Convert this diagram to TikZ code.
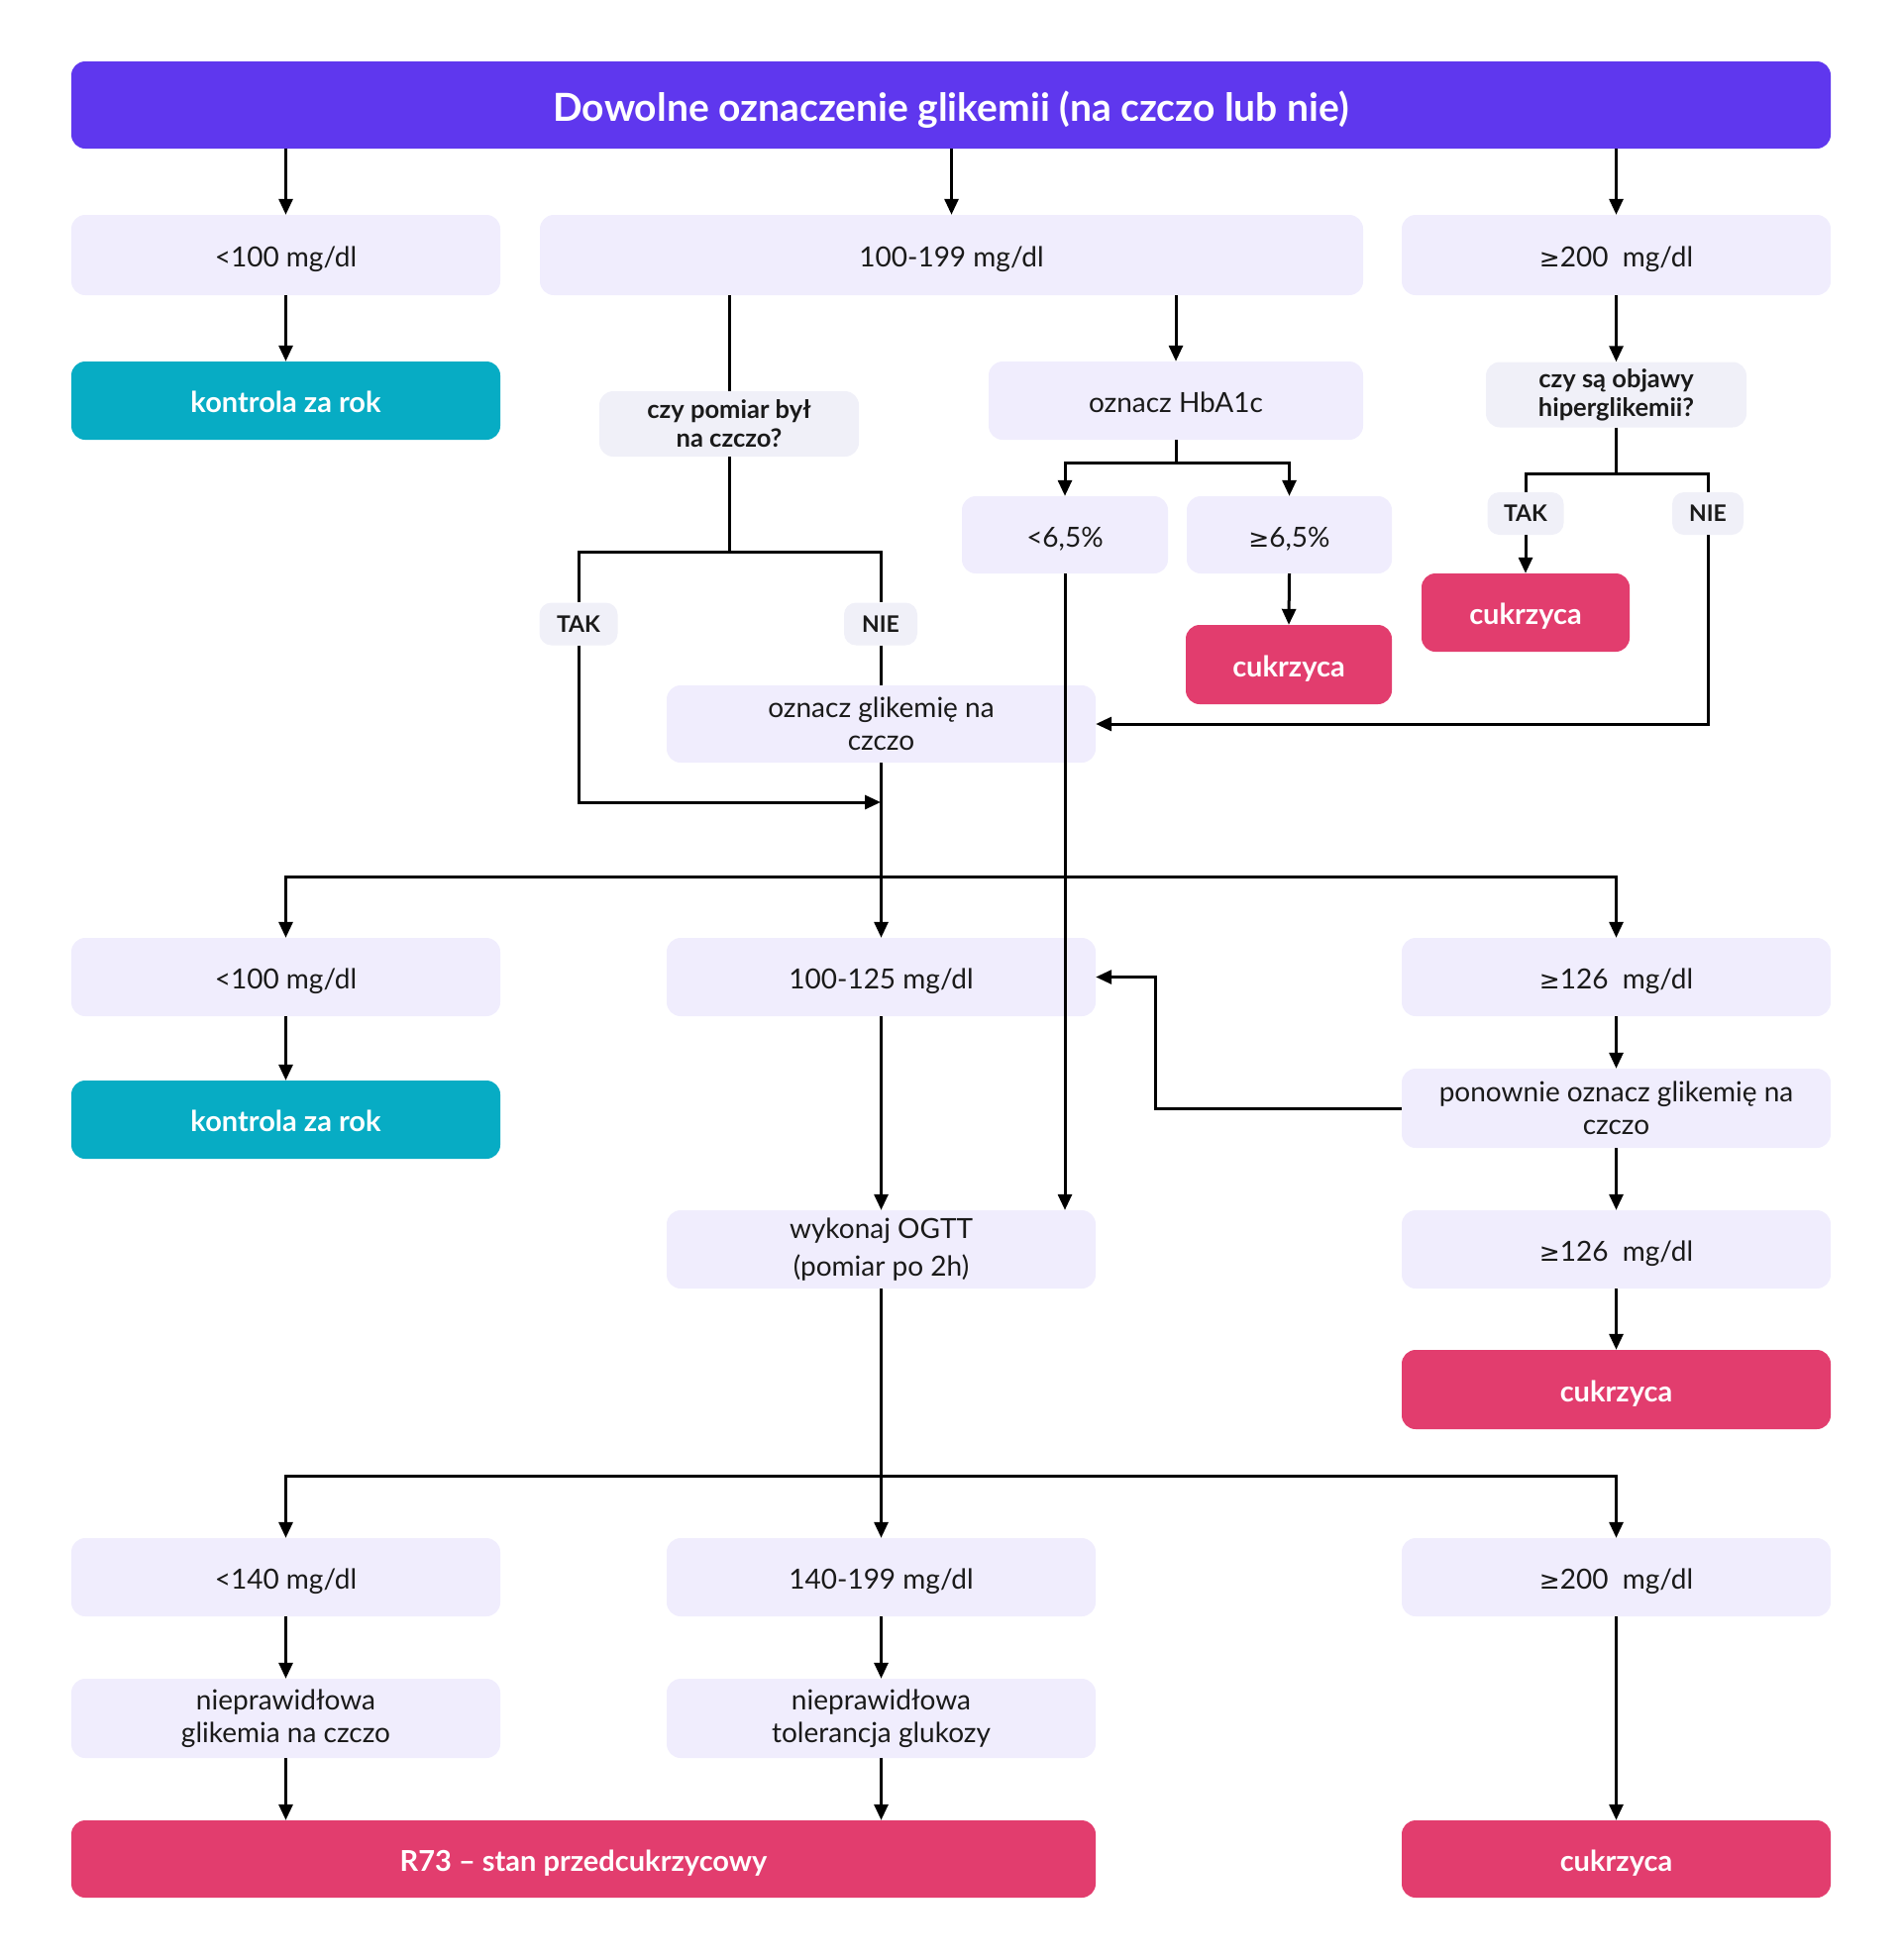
\documentclass[tikz,border=0pt]{standalone}
\usepackage{fontspec}
\setmainfont{Lato}
\newfontfamily\gefont{DejaVu Sans}
\usetikzlibrary{arrows.meta}
\definecolor{purp}{HTML}{5F37EE}
\definecolor{lav}{HTML}{F0EDFD}
\definecolor{qgrey}{HTML}{F0F0F8}
\definecolor{teal}{HTML}{07ACC4}
\definecolor{pinkc}{HTML}{E23D6E}
\definecolor{txt}{HTML}{1A1A1A}
\newcommand\gesym{{\gefont\fontsize{25}{30}\selectfont ≥}}
\tikzset{
  basebox/.style={rectangle, rounded corners=14pt, inner sep=0pt, align=center, text=txt},
  lbox/.style={basebox, fill=lav, font=\fontsize{28}{33}\selectfont},
  sl/.style={text height=30pt, text depth=6pt},
  qbox/.style={basebox, fill=qgrey, font=\fontsize{25.5}{29}\selectfont\bfseries},
  tagbox/.style={basebox, fill=qgrey, rounded corners=12pt, font=\fontsize{23}{29}\selectfont\bfseries, minimum height=43pt},
  tealbox/.style={basebox, fill=teal, text=white, font=\fontsize{29}{33}\selectfont\bfseries, sl},
  pinkbox/.style={basebox, fill=pinkc, text=white, font=\fontsize{29}{33}\selectfont\bfseries, sl},
  conn/.style={line width=3pt, draw=black},
  arr/.style={conn, -{Triangle[length=16pt,width=14pt]}},
}
\begin{document}
\begin{tikzpicture}[x=1pt,y=-1pt]
\useasboundingbox (0,0) rectangle (1920,1979);
% title
\node[basebox, fill=purp, text=white, minimum width=1776pt, minimum height=88pt, text height=40pt, text depth=8pt, font=\fontsize{39}{44}\selectfont\bfseries] (top) at (960,106) {Dowolne oznaczenie glikemii (na czczo lub nie)};
% row 1
\node[lbox, sl, minimum width=433pt, minimum height=81pt] (a1) at (288.5,257.5) {<100 mg/dl};
\node[lbox, sl, minimum width=831pt, minimum height=81pt] (a2) at (960.5,257.5) {100-199 mg/dl};
\node[lbox, sl, minimum width=433pt, minimum height=81pt] (a3) at (1631.5,257.5) {\gesym200\ \ mg/dl};
% row 2
\node[tealbox, minimum width=433pt, minimum height=79pt] (k1) at (288.5,404.5) {kontrola za rok};
\node[qbox, minimum width=262pt, minimum height=66pt] (pom) at (736,428) {czy pomiar był\\na czczo?};
\node[lbox, sl, minimum width=378pt, minimum height=79pt] (hb) at (1187,404.5) {oznacz HbA1c};
\node[qbox, minimum width=263pt, minimum height=66pt] (obj) at (1631.5,398.5) {czy są objawy\\hiperglikemii?};
% HbA1c results
\node[lbox, sl, minimum width=208pt, minimum height=78pt] (h1) at (1075,540) {<6,5\%};
\node[lbox, sl, minimum width=207pt, minimum height=78pt] (h2) at (1301.5,540) {\gesym6,5\%};
\node[pinkbox, minimum width=208pt, minimum height=80pt] (c1) at (1301,671) {cukrzyca};
% tags
\node[tagbox, minimum width=79pt] (tak1) at (584,630) {TAK};
\node[tagbox, minimum width=74pt] (nie1) at (889,630) {NIE};
\node[tagbox, minimum width=77pt] (tak2) at (1540,518.5) {TAK};
\node[tagbox, minimum width=72pt] (nie2) at (1724,518.5) {NIE};
\node[pinkbox, minimum width=210pt, minimum height=79pt] (c2) at (1540,618.5) {cukrzyca};
% fasting
\node[lbox, minimum width=433pt, minimum height=78pt] (ogl) at (889.5,731) {oznacz glikemię na\\czczo};
% row m
\node[lbox, sl, minimum width=433pt, minimum height=79pt] (m1) at (288.5,986.5) {<100 mg/dl};
\node[lbox, sl, minimum width=433pt, minimum height=79pt] (m2) at (889.5,986.5) {100-125 mg/dl};
\node[lbox, sl, minimum width=433pt, minimum height=79pt] (m3) at (1631.5,986.5) {\gesym126\ \ mg/dl};
\node[tealbox, minimum width=433pt, minimum height=79pt] (k2) at (288.5,1130.5) {kontrola za rok};
\node[lbox, minimum width=433pt, minimum height=80pt] (pon) at (1631.5,1119) {ponownie oznacz glikemię na\\czczo};
\node[lbox, minimum width=433pt, minimum height=79pt, font=\fontsize{28}{38}\selectfont] (og) at (889.5,1261.5) {wykonaj OGTT\\(pomiar po 2h)};
\node[lbox, sl, minimum width=433pt, minimum height=79pt] (m4) at (1631.5,1261.5) {\gesym126\ \ mg/dl};
\node[pinkbox, minimum width=433pt, minimum height=80pt] (c3) at (1631.5,1403) {cukrzyca};
% row n
\node[lbox, sl, minimum width=433pt, minimum height=79pt] (n1) at (288.5,1592.5) {<140 mg/dl};
\node[lbox, sl, minimum width=433pt, minimum height=79pt] (n2) at (889.5,1592.5) {140-199 mg/dl};
\node[lbox, sl, minimum width=433pt, minimum height=79pt] (n3) at (1631.5,1592.5) {\gesym200\ \ mg/dl};
% row p
\node[lbox, minimum width=433pt, minimum height=80pt] (p1) at (288.5,1735) {nieprawidłowa\\glikemia na czczo};
\node[lbox, minimum width=433pt, minimum height=80pt] (p2) at (889.5,1735) {nieprawidłowa\\tolerancja glukozy};
% bottom
\node[pinkbox, minimum width=1034pt, minimum height=78pt] (r73) at (589,1877) {R73 – stan przedcukrzycowy};
\node[pinkbox, minimum width=433pt, minimum height=78pt] (c4) at (1631.5,1877) {cukrzyca};
% junctions
\coordinate (j1) at (736,557);
\coordinate (j2) at (889,810);
\coordinate (j3) at (889.5,885);
\coordinate (j4) at (1187,467);
\coordinate (j5) at (1631.5,478);
\coordinate (j6) at (889.5,1490);
\coordinate (jp) at (1166,1119);
% connectors
\draw[arr] (a1 |- top.south) -- (a1.north);
\draw[arr] (a2 |- top.south) -- (a2.north);
\draw[arr] (a3 |- top.south) -- (a3.north);
\draw[arr] (a1.south) -- (k1.north);
\draw[arr] (hb |- a2.south) -- (hb.north);
\draw[conn] (pom |- a2.south) -- (pom.north);
\draw[arr] (a3.south) -- (obj.north);
\draw[conn] (pom.south) -- (j1);
\draw[conn] (tak1.north) |- (j1) -| (nie1.north);
\draw[arr] (tak1.south) |- (j2);
\draw[conn] (nie1.south) -- (nie1.south |- ogl.north);
\draw[conn] (hb.south) -- (j4);
\draw[arr] (j4) -| (h1.north);
\draw[arr] (j4) -| (h2.north);
\draw[arr] (h2.south) -- (c1.north);
\draw[conn] (obj.south) -- (j5);
\draw[conn] (tak2.north) |- (j5) -| (nie2.north);
\draw[arr] (tak2.south) -- (c2.north);
\draw[arr] (nie2.south) |- (ogl.east);
\draw[arr] (ogl.south) -- (m2.north);
\draw[arr] (j3) -| (m1.north);
\draw[arr] (j3) -| (m3.north);
\draw[arr] (h1.south) -- (h1.south |- og.north);
\draw[arr] (m1.south) -- (k2.north);
\draw[arr] (m3.south) -- (pon.north);
\draw[arr] (pon.south) -- (m4.north);
\draw[arr] (m4.south) -- (c3.north);
\draw[arr] (pon.west) -- (jp) |- (m2.east);
\draw[arr] (m2.south) -- (m2.south |- og.north);
\draw[arr] (og.south) -- (n2.north);
\draw[arr] (j6) -| (n1.north);
\draw[arr] (j6) -| (n3.north);
\draw[arr] (n1.south) -- (p1.north);
\draw[arr] (n2.south) -- (p2.north);
\draw[arr] (p1.south) -- (p1.south |- r73.north);
\draw[arr] (p2.south) -- (p2.south |- r73.north);
\draw[arr] (n3.south) -- (c4.north);
\end{tikzpicture}
\end{document}
